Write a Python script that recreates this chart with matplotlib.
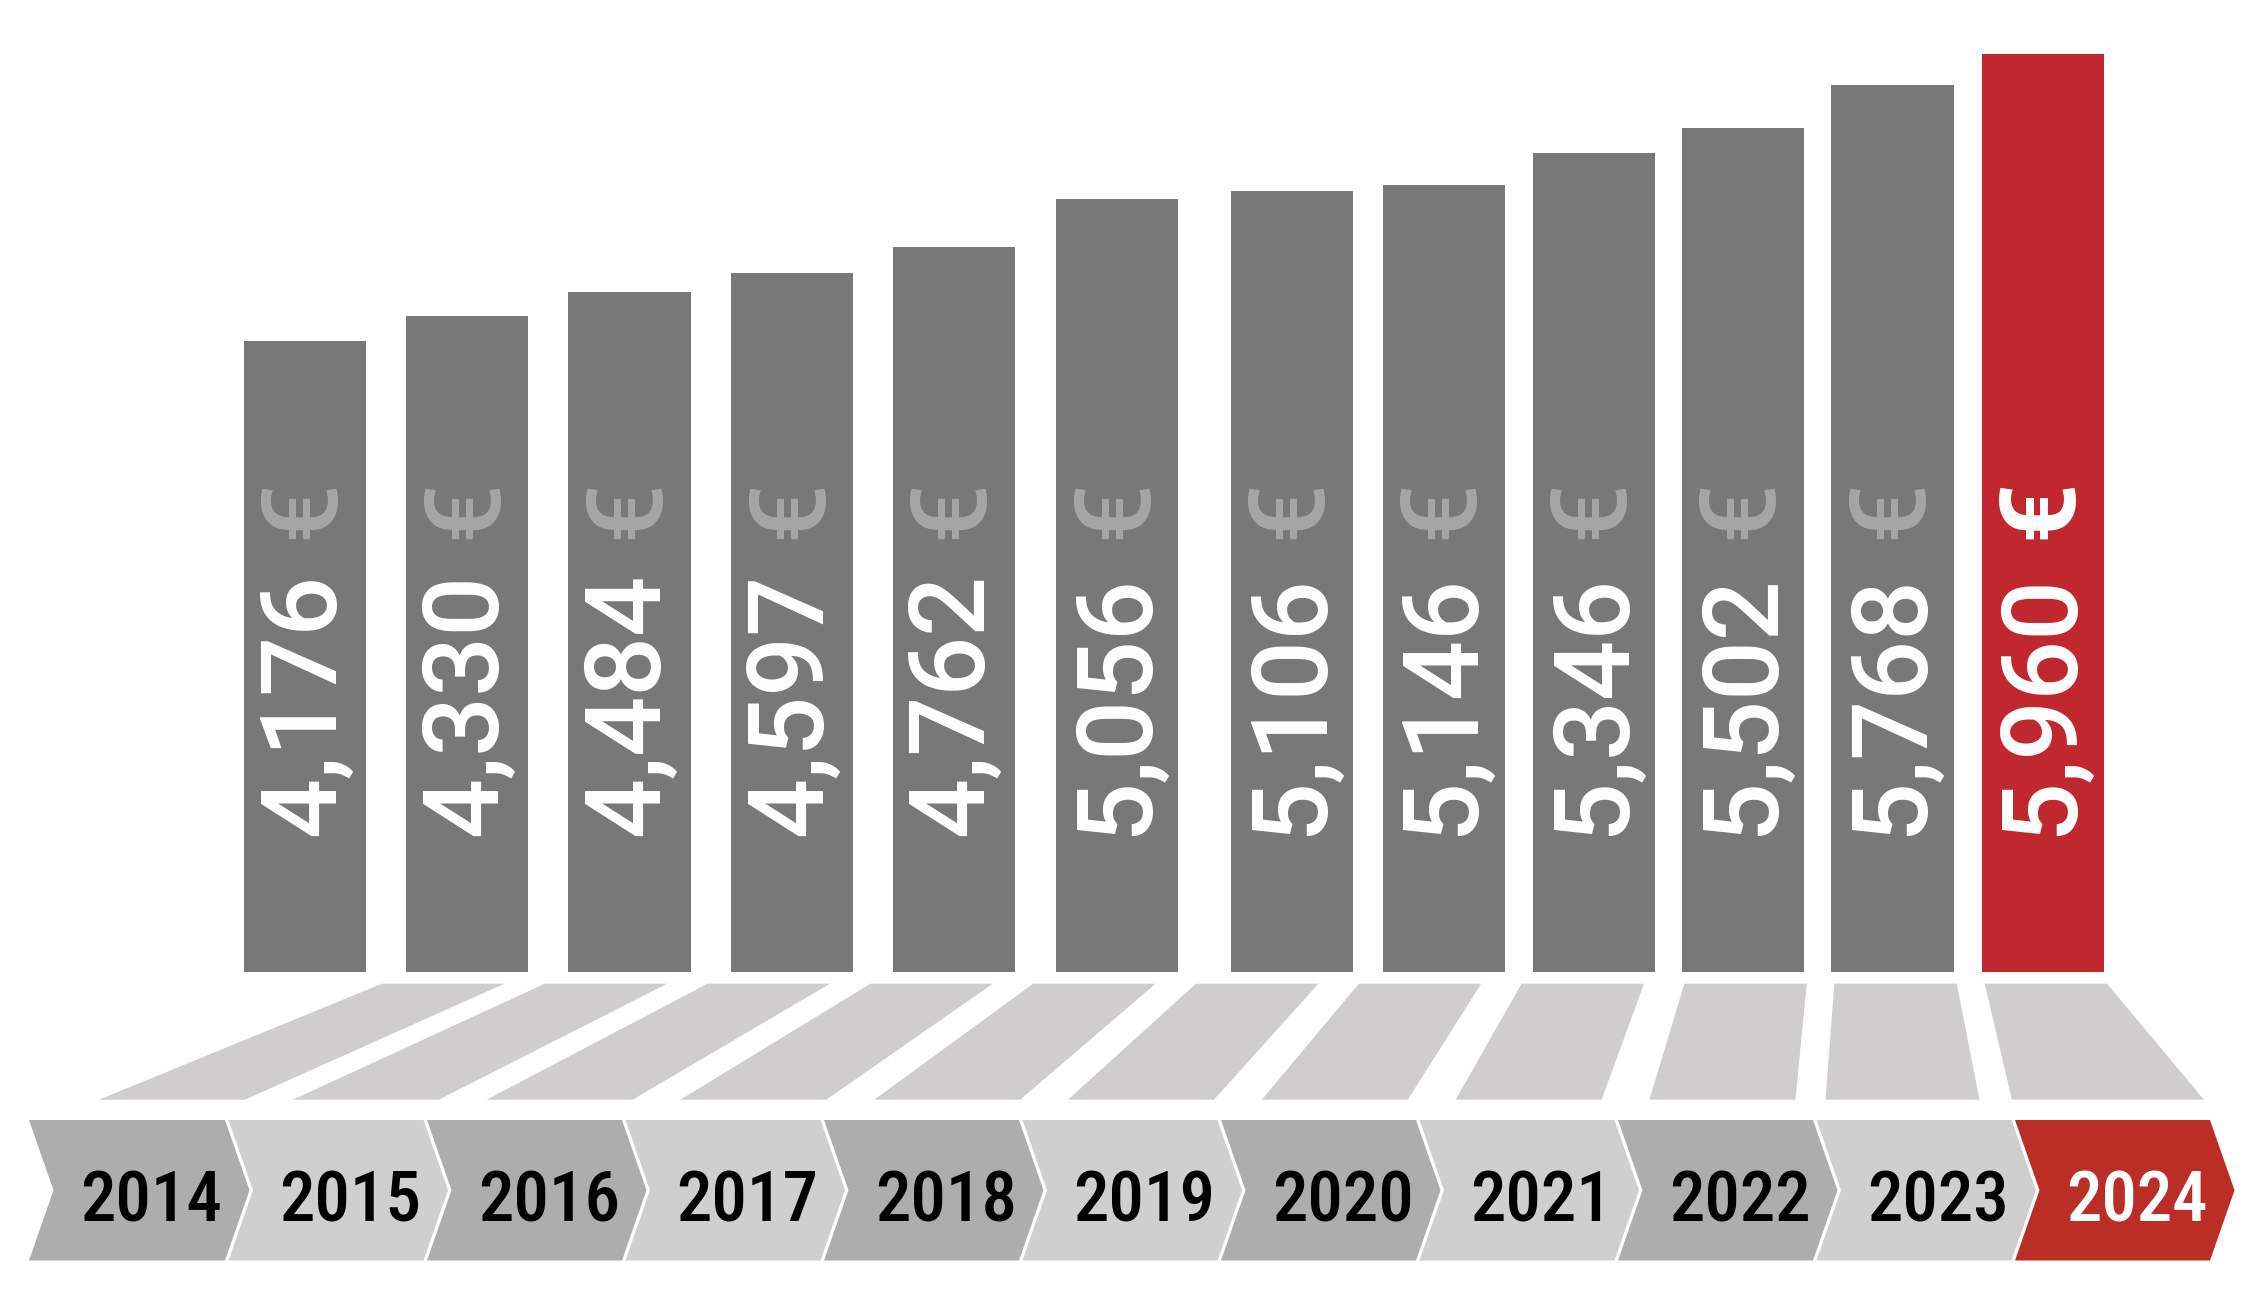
import matplotlib
matplotlib.use("Agg")
import matplotlib.pyplot as plt
from matplotlib.patches import Polygon
from matplotlib import font_manager as fm

# ---------------- data ----------------
years = ["2014", "2015", "2016", "2017", "2018", "2019", "2020", "2021", "2022", "2023", "2024"]
values = [4176, 4330, 4484, 4597, 4762, 5056, 5106, 5146, 5346, 5502, 5768, 5960]
currency = "€"

# ---------------- layout / style ----------------
W, H, DPI = 2263, 1306, 100
bar_left_px = [243.9, 406.1, 568.4, 731.1, 892.9, 1056.1, 1231.0, 1382.5, 1532.9, 1682.0, 1831.4, 1981.8]
bar_w = 122.2
bar_bottom_px = 972.0
px_per_unit = 0.16106
base_value = 259.6

c_bar = "#787878"
c_red_bar = "#c1272f"
c_red_chev = "#bb2e26"
c_chev_dark = "#adadad"
c_chev_light = "#cfcfcf"
c_conn = "#cfcdce"
c_euro = "#a6a6a6"

names = {f.name for f in fm.fontManager.ttflist}
year_font = "Roboto Condensed" if "Roboto Condensed" in names else "Roboto"
label_font = "Roboto"

fig = plt.figure(figsize=(W / DPI, H / DPI), dpi=DPI)
fig.patch.set_facecolor("white")

# bar axes: value scale
frac_bottom = (H - bar_bottom_px) / H
ax = fig.add_axes([0, frac_bottom, 1, 1 - frac_bottom])
ax.set_xlim(0, W)
ax.set_ylim(base_value, base_value + bar_bottom_px / px_per_unit)
ax.axis("off")
ax.set_zorder(0)

# decoration axes in pixel coordinates (drawn above bars)
deco = fig.add_axes([0, 0, 1, 1])
deco.set_xlim(0, W)
deco.set_ylim(H, 0)
deco.axis("off")
deco.set_zorder(1)

centers = [l + bar_w / 2 for l in bar_left_px]
bar_colors = [c_bar] * (len(values) - 1) + [c_red_bar]
ax.bar(centers, values, width=bar_w, color=bar_colors, linewidth=0)

# connectors (decorative trapezoids)
n = len(years)
conn_top_y, conn_bot_y = 983.7, 1099.7
conn_top_l = [382 + 162.8 * k for k in range(9)] + [1834.3, 1984.7]
conn_bot_l = [99 + 193.8 * k for k in range(9)] + [1825.5, 2011.9]
conn_bot_w = [146] * 9 + [154, 192]
conn_top_w = 122.4
for k in range(n):
    pts = [(conn_top_l[k], conn_top_y), (conn_top_l[k] + conn_top_w, conn_top_y),
           (conn_bot_l[k] + conn_bot_w[k], conn_bot_y), (conn_bot_l[k], conn_bot_y)]
    deco.add_patch(Polygon(pts, closed=True, facecolor=c_conn, edgecolor="none"))

# chevrons
ch_top, ch_bot = 1120.0, 1260.5
ch_mid = (ch_top + ch_bot) / 2
d = 24.5
pitch = 198.5
R0 = 225.0
for k, yr in enumerate(years):
    R = R0 + pitch * k
    L = 29.0 if k == 0 else R0 + pitch * (k - 1) + 3.5
    pts = [(L, ch_top), (R, ch_top), (R + d, ch_mid), (R, ch_bot), (L, ch_bot), (L + d, ch_mid)]
    if k == n - 1:
        fc = c_red_chev
    else:
        fc = c_chev_dark if k % 2 == 0 else c_chev_light
    deco.add_patch(Polygon(pts, closed=True, facecolor=fc, edgecolor="none"))
    deco.text((L + d + R + d) / 2, 1221.5, yr, ha="center", va="baseline",
              fontsize=51, family=year_font, fontweight="medium",
              color="white" if k == n - 1 else "black")

# value labels
label_anchor_y = 836
for i, v in enumerate(values):
    last = i == len(values) - 1
    t = deco.text(centers[i], label_anchor_y, f"{v:,}", rotation=90, rotation_mode="anchor",
                  ha="left", va="center", fontsize=76, family=label_font,
                  fontweight="medium", color="white")
    deco.annotate(currency, xy=(0.5, 1), xycoords=t, xytext=(0, 24.5), textcoords="offset points",
                  rotation=90, rotation_mode="anchor", ha="left", va="center",
                  fontsize=76, family=label_font,
                  fontweight="bold" if last else "medium",
                  color="white" if last else c_euro)

fig.savefig("out.png", dpi=DPI, facecolor="white")
